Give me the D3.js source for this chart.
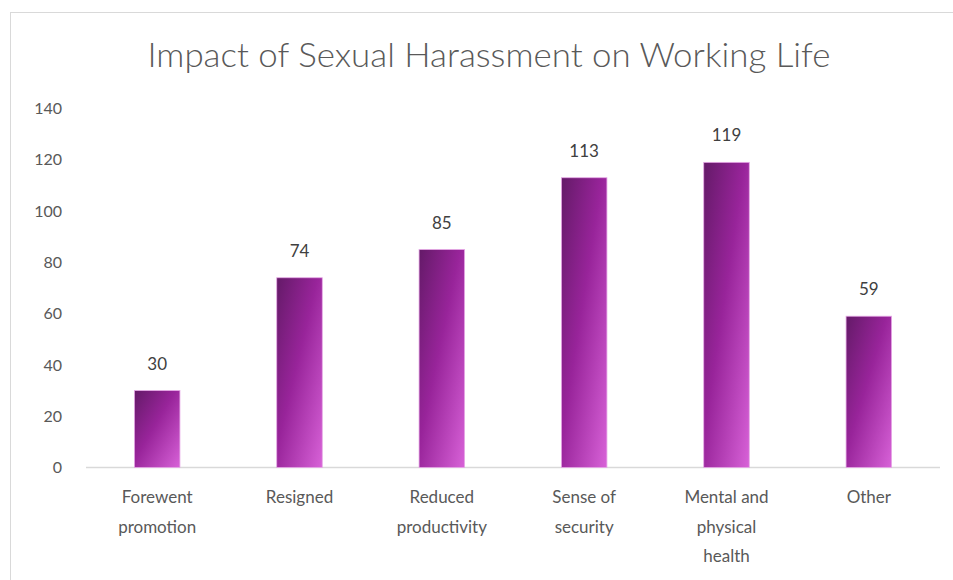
<!DOCTYPE html>
<html>
<head>
<meta charset="utf-8">
<script src="https://cdn.jsdelivr.net/npm/d3@7"></script>
<style>
  body { margin: 0; background: #fff; }
  svg { display: block; }
</style>
</head>
<body>
<div id="app"></div>
<script>
const WIDTH = 953;
const HEIGHT = 580;

const categories = [
  ['Forewent', 'promotion'],
  ['Resigned'],
  ['Reduced', 'productivity'],
  ['Sense of', 'security'],
  ['Mental and', 'physical', 'health'],
  ['Other']
];
const values = [30, 74, 85, 113, 119, 59];
const yTicks = [0, 20, 40, 60, 80, 100, 120, 140];

const TITLE = 'Impact of Sexual Harassment on Working Life';

const margin = { left: 86, right: 13, top: 108.5, bottom: 112.5 };
const textColor = '#595959';
const font = 'Lato, "Open Sans", sans-serif';

const svg = d3.select('#app')
  .append('svg')
  .attr('width', WIDTH)
  .attr('height', HEIGHT);

// chart frame, bottom edge runs off the picture
svg.append('rect')
  .attr('x', 10.5)
  .attr('y', 12.5)
  .attr('width', WIDTH)
  .attr('height', HEIGHT)
  .attr('fill', '#fff')
  .attr('stroke', '#d9d9d9');

const defs = svg.append('defs');
const grad = defs.append('linearGradient')
  .attr('id', 'barGrad')
  .attr('x1', '0%').attr('y1', '0%')
  .attr('x2', '100%').attr('y2', '100%');
grad.append('stop').attr('offset', '0%').attr('stop-color', '#641a68');
grad.append('stop').attr('offset', '45%').attr('stop-color', '#98249a');
grad.append('stop').attr('offset', '100%').attr('stop-color', '#d862d8');

const x = d3.scaleBand()
  .domain(d3.range(categories.length))
  .range([margin.left, WIDTH - margin.right])
  .paddingInner(0.68)
  .paddingOuter(0.34);

const y = d3.scaleLinear()
  .domain([0, 140])
  .range([HEIGHT - margin.bottom, margin.top]);

svg.append('text')
  .attr('x', 489)
  .attr('y', 67)
  .attr('text-anchor', 'middle')
  .attr('font-family', font)
  .attr('font-weight', 300)
  .attr('font-size', 33)
  .attr('fill', textColor)
  .attr('textLength', 683)
  .attr('lengthAdjust', 'spacingAndGlyphs')
  .text(TITLE);

// y axis labels only, no lines
const yAxis = svg.append('g')
  .attr('transform', `translate(${margin.left - 24},0)`)
  .call(d3.axisLeft(y).tickValues(yTicks).tickSize(0).tickPadding(0));
yAxis.select('.domain').remove();
yAxis.selectAll('text')
  .attr('font-family', font)
  .attr('font-size', 16)
  .attr('fill', textColor);

// baseline
svg.append('line')
  .attr('x1', margin.left)
  .attr('x2', WIDTH - margin.right)
  .attr('y1', y(0))
  .attr('y2', y(0))
  .attr('stroke', '#d9d9d9')
  .attr('stroke-width', 1.5);

svg.selectAll('rect.bar')
  .data(values)
  .enter()
  .append('rect')
  .attr('class', 'bar')
  .attr('x', (d, i) => x(i))
  .attr('y', d => y(d))
  .attr('width', x.bandwidth())
  .attr('height', d => y(0) - y(d))
  .attr('fill', 'url(#barGrad)')
  .attr('stroke', '#e6a8e6')
  .attr('stroke-width', 0.8);

svg.selectAll('text.value')
  .data(values)
  .enter()
  .append('text')
  .attr('class', 'value')
  .attr('x', (d, i) => x(i) + x.bandwidth() / 2)
  .attr('y', d => y(d) - 21)
  .attr('text-anchor', 'middle')
  .attr('font-family', font)
  .attr('font-size', 17)
  .attr('fill', '#404040')
  .text(d => d);

const catLabels = svg.selectAll('text.cat')
  .data(categories)
  .enter()
  .append('text')
  .attr('class', 'cat')
  .attr('text-anchor', 'middle')
  .attr('font-family', font)
  .attr('font-size', 17)
  .attr('fill', textColor);

catLabels.selectAll('tspan')
  .data((d, i) => d.map(line => ({ line, i })))
  .enter()
  .append('tspan')
  .attr('x', d => x(d.i) + x.bandwidth() / 2)
  .attr('y', (d, j) => 503 + j * 29.5)
  .text(d => d.line);
</script>
</body>
</html>
